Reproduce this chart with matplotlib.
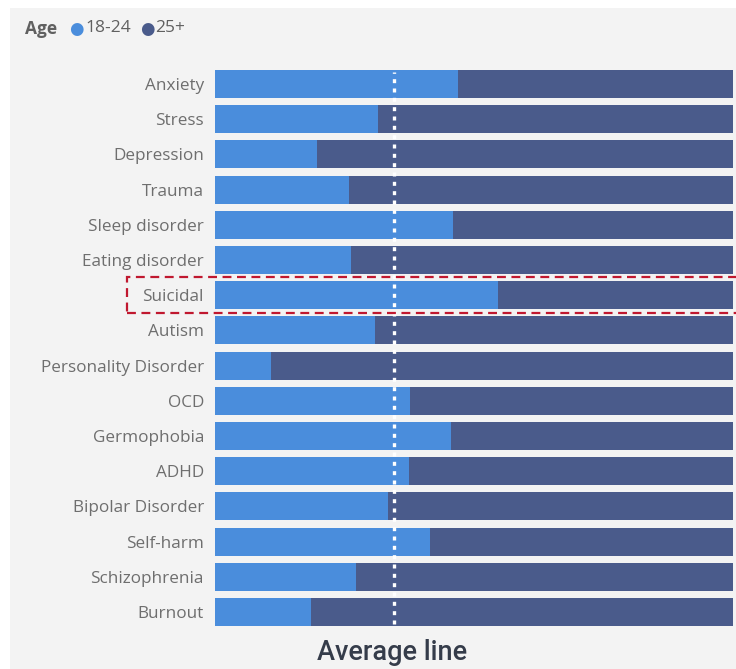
import matplotlib
matplotlib.use("Agg")
import matplotlib.pyplot as plt
from matplotlib.patches import Rectangle

categories = ["Anxiety", "Stress", "Depression", "Trauma", "Sleep disorder",
              "Eating disorder", "Suicidal", "Autism", "Personality Disorder",
              "OCD", "Germophobia", "ADHD", "Bipolar Disorder", "Self-harm",
              "Schizophrenia", "Burnout"]
share_18_24 = [46.9, 31.5, 19.7, 25.9, 45.9, 26.3, 54.6, 30.9, 10.8,
               37.6, 45.6, 37.5, 33.4, 41.5, 27.2, 18.5]
share_25_plus = [100 - v for v in share_18_24]
average_value = 34.6
legend_title = "Age"
series_names = ["18-24", "25+"]

W, H = 736, 669
fig = plt.figure(figsize=(W / 100, H / 100), dpi=100)
fig.patch.set_facecolor("white")
fig.patches.append(Rectangle((10 / W, 0), 1 - 10 / W, 1 - 8 / H,
                             transform=fig.transFigure, facecolor="#f3f3f3",
                             edgecolor="none", zorder=-10))

left, right = 215 / W, 733 / W
top_px, bot_px = 66.4, 629.6
ax = fig.add_axes([left, 1 - bot_px / H, right - left, (bot_px - top_px) / H])
ax.set_facecolor("none")

c1, c2 = "#4a8ddc", "#4a5b8b"
y = list(range(len(categories)))
ax.barh(y, share_18_24, height=0.8, color=c1, edgecolor="none")
ax.barh(y, share_25_plus, left=share_18_24, height=0.8, color=c2, edgecolor="none")
ax.set_xlim(0, 100)
ax.set_ylim(len(categories) - 0.5, -0.5)
ax.axvline(average_value, ymin=0.01, ymax=0.99, color="white", lw=2.4,
           linestyle=(0, (1.2, 1.6)))
ax.set_yticks(y)
ax.set_yticklabels(categories, fontsize=12.3, color="#6e6e6e", family="Open Sans")
ax.tick_params(axis="y", length=0, pad=8)
ax.set_xticks([])
for s in ax.spines.values():
    s.set_visible(False)

# highlight box
fig.patches.append(Rectangle((127 / W, 1 - 313 / H), (740 - 127) / W, 36 / H,
                             transform=fig.transFigure, facecolor="none",
                             edgecolor="#c0182f", lw=1.6, linestyle=(0, (4, 2.5)),
                             zorder=5))

# legend
ly = 1 - 28.5 / H
fig.text(25 / W, ly, legend_title, fontsize=12.5, fontweight="bold",
         color="#606060", va="center", family="Open Sans")
fig.text(69 / W, ly, "\u25CF", fontsize=12, color=c1, va="center",
         family="DejaVu Sans")
fig.text(85 / W, ly, series_names[0], fontsize=12.5, color="#606060",
         va="center", family="Open Sans")
fig.text(140 / W, ly, "\u25CF", fontsize=12, color=c2, va="center",
         family="DejaVu Sans")
fig.text(155 / W, ly, series_names[1], fontsize=12.5, color="#606060",
         va="center", family="Open Sans")

fig.text(392 / W, 1 - 653 / H, "Average line", fontsize=19.5, color="#353c4a",
         ha="center", va="center", family="Roboto", fontweight="medium")

fig.savefig("out.png", dpi=100, facecolor=fig.get_facecolor())
